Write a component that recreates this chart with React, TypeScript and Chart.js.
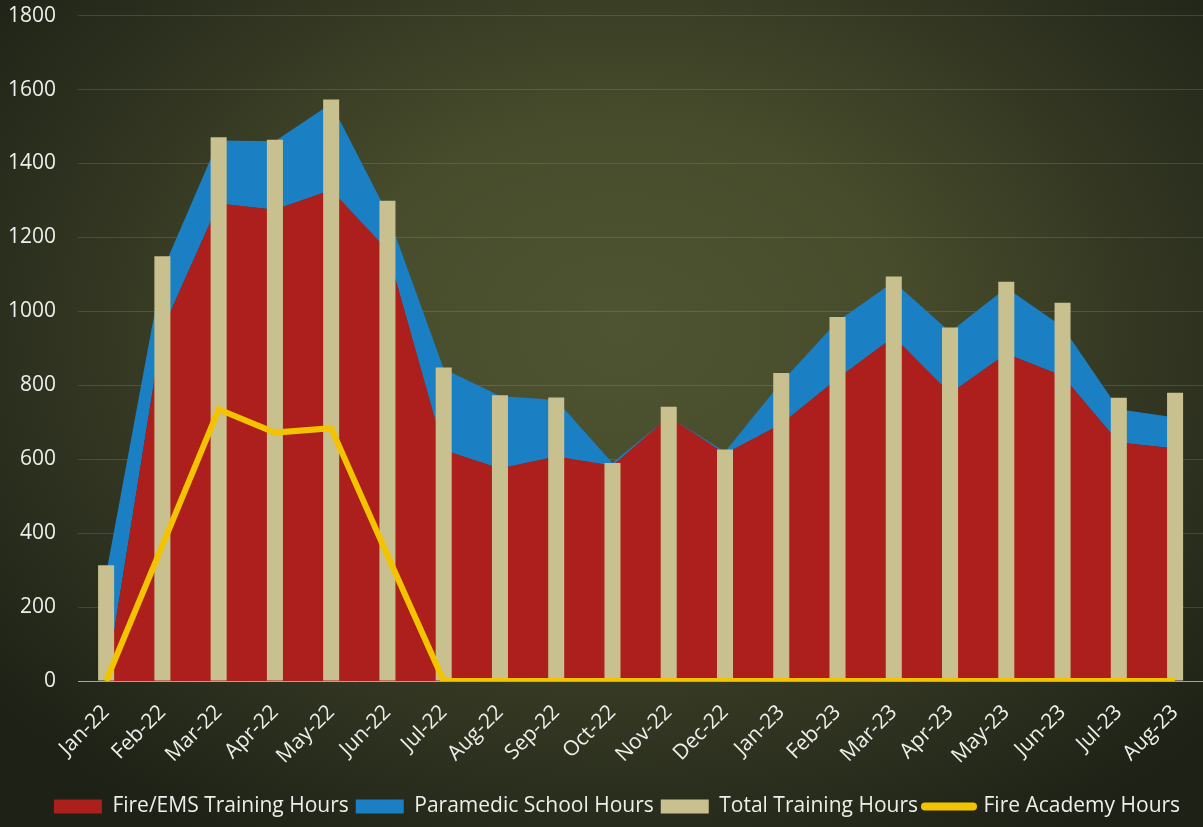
import React, { useEffect, useRef } from "react";
import { Chart, registerables } from "chart.js";

Chart.register(...registerables);

const months = [
  "Jan-22", "Feb-22", "Mar-22", "Apr-22", "May-22", "Jun-22", "Jul-22",
  "Aug-22", "Sep-22", "Oct-22", "Nov-22", "Dec-22", "Jan-23", "Feb-23",
  "Mar-23", "Apr-23", "May-23", "Jun-23", "Jul-23", "Aug-23",
];

const fireEmsHours = [0, 950, 1292, 1275, 1328, 1165, 625, 575, 607, 582, 715, 615, 695, 818, 931, 778, 885, 825, 645, 629];
const paramedicHours = [290, 160, 170, 185, 234, 100, 220, 196, 153, 8, 0, 5, 113, 155, 149, 166, 179, 133, 90, 84];
const totalHours = [313, 1149, 1471, 1464, 1573, 1299, 848, 773, 767, 590, 742, 626, 833, 985, 1094, 956, 1080, 1023, 766, 780];
const academyHours = [0, 367, 735, 672, 684, 340, 0, 0, 0, 0, 0, 0, 0, 0, 0, 0, 0, 0, 0, 0];

const seriesNames = [
  "Fire/EMS Training Hours",
  "Paramedic School Hours",
  "Total Training Hours",
  "Fire Academy Hours",
];

const RED = "#ac1f1c";
const BLUE = "#1b7fc4";
const KHAKI = "#c8c18f";
const YELLOW = "#f4c300";
const TEXT = "#eeeeea";
const FONT = "'Open Sans', 'DejaVu Sans', sans-serif";

const backgroundPlugin = {
  id: "oliveBackground",
  beforeDraw(chart: any) {
    const { ctx, width, height } = chart;
    ctx.save();
    ctx.fillStyle = "#1d2116";
    ctx.fillRect(0, 0, width, height);
    ctx.translate(620, 330);
    ctx.scale(1.35, 1);
    const g = ctx.createRadialGradient(0, 0, 0, 0, 0, 600);
    g.addColorStop(0, "#4e5431");
    g.addColorStop(0.35, "#474c2c");
    g.addColorStop(0.7, "#2f3320");
    g.addColorStop(1, "#1d2116");
    ctx.fillStyle = g;
    ctx.fillRect(-700, -600, 1400, 1200);
    ctx.restore();
  },
};

const legendShiftPlugin = {
  id: "legendShift",
  afterLayout(chart: any) {
    const lg = chart.legend;
    if (lg) {
      lg.left += 13;
      lg.right += 13;
    }
  },
};

export default function App() {
  const canvasRef = useRef<HTMLCanvasElement | null>(null);

  useEffect(() => {
    const canvas = canvasRef.current;
    if (!canvas) return;
    const chart = new Chart(canvas, {
      type: "bar",
      data: {
        labels: months,
        datasets: [
          {
            type: "line",
            label: seriesNames[0],
            data: fireEmsHours,
            backgroundColor: RED,
            borderColor: RED,
            borderWidth: 0,
            pointRadius: 0,
            tension: 0,
            fill: "origin",
            stack: "areas",
            order: 3,
          } as any,
          {
            type: "line",
            label: seriesNames[1],
            data: paramedicHours,
            backgroundColor: BLUE,
            borderColor: BLUE,
            borderWidth: 0,
            pointRadius: 0,
            tension: 0,
            fill: "-1",
            stack: "areas",
            order: 4,
          } as any,
          {
            type: "bar",
            label: seriesNames[2],
            data: totalHours,
            backgroundColor: KHAKI,
            borderWidth: 0,
            categoryPercentage: 1,
            barPercentage: 0.285,
            stack: "total",
            order: 2,
          } as any,
          {
            type: "line",
            label: seriesNames[3],
            data: academyHours,
            borderColor: YELLOW,
            backgroundColor: YELLOW,
            borderWidth: 6,
            pointRadius: 0,
            tension: 0,
            fill: false,
            stack: "academy",
            order: 1,
          } as any,
        ],
      },
      options: {
        responsive: false,
        animation: false,
        devicePixelRatio: 1,
        layout: { padding: { left: 0, right: 4, top: 15, bottom: 0 } },
        plugins: {
          tooltip: { enabled: false },
          legend: {
            position: "bottom",
            labels: {
              color: TEXT,
              font: { family: FONT, size: 21 },
              usePointStyle: true,
              pointStyleWidth: 48,
              boxHeight: 14,
              padding: 7,
              generateLabels: () => [
                { text: seriesNames[0], fillStyle: RED, strokeStyle: RED, lineWidth: 0, pointStyle: "rect", fontColor: TEXT, hidden: false, datasetIndex: 0 },
                { text: seriesNames[1], fillStyle: BLUE, strokeStyle: BLUE, lineWidth: 0, pointStyle: "rect", fontColor: TEXT, hidden: false, datasetIndex: 1 },
                { text: seriesNames[2], fillStyle: KHAKI, strokeStyle: KHAKI, lineWidth: 0, pointStyle: "rect", fontColor: TEXT, hidden: false, datasetIndex: 2 },
                { text: seriesNames[3], fillStyle: YELLOW, strokeStyle: YELLOW, lineWidth: 8, lineCap: "round", pointStyle: "line", fontColor: TEXT, hidden: false, datasetIndex: 3 },
              ] as any,
            },
          },
        },
        scales: {
          x: {
            stacked: false,
            offset: true,
            grid: { display: false, drawTicks: false },
            border: { display: true, color: "rgba(205,200,150,0.75)", width: 1 },
            ticks: {
              color: TEXT,
              font: { family: FONT, size: 21 },
              minRotation: 45,
              maxRotation: 45,
              padding: 19,
              autoSkip: false,
            },
            afterFit: (scale: any) => {
              scale.height = 108;
            },
          },
          y: {
            stacked: true,
            min: 0,
            max: 1800,
            grid: {
              color: "rgba(190,190,120,0.2)",
              drawTicks: true,
              tickLength: 19,
              tickColor: "rgba(0,0,0,0)",
              lineWidth: 1,
            },
            border: { display: false },
            ticks: {
              stepSize: 200,
              color: TEXT,
              font: { family: FONT, size: 21 },
              padding: 3,
              callback: (v: any) => String(v),
            },
            afterFit: (scale: any) => {
              scale.width = 78;
            },
          },
        },
      },
      plugins: [backgroundPlugin, legendShiftPlugin],
    });
    return () => chart.destroy();
  }, []);

  return (
    <div
      style={{
        position: "fixed",
        left: 0,
        top: 0,
        width: 1203,
        height: 827,
        overflow: "hidden",
        background: "#1d2116",
      }}
    >
      <canvas ref={canvasRef} width={1212} height={827} style={{ display: "block" }} />
    </div>
  );
}
